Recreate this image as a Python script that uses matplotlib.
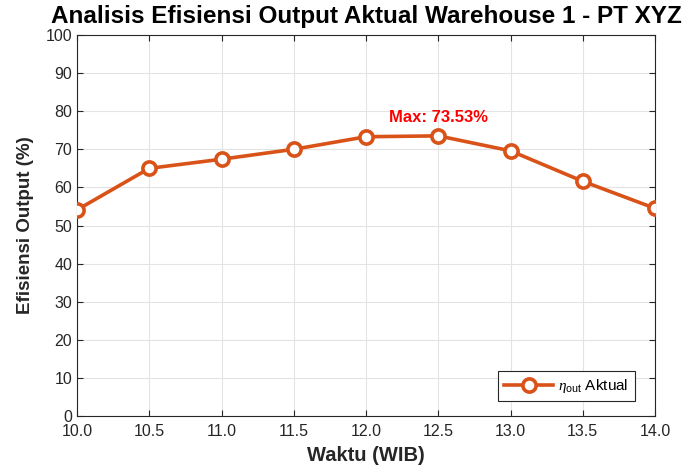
import matplotlib
matplotlib.use("Agg")
import matplotlib.pyplot as plt

waktu = [10.0, 10.5, 11.0, 11.5, 12.0, 12.5, 13.0, 13.5, 14.0]
efisiensi = [54.1, 65.0, 67.4, 70.0, 73.3, 73.53, 69.6, 61.6, 54.5]
xticks = [10.0, 10.5, 11.0, 11.5, 12.0, 12.5, 13.0, 13.5, 14.0]
yticks = list(range(0, 101, 10))

plt.rcParams['font.family'] = ['Liberation Sans', 'DejaVu Sans']
plt.rcParams['mathtext.fontset'] = 'custom'
plt.rcParams['mathtext.it'] = 'Liberation Serif:italic'
plt.rcParams['mathtext.rm'] = 'Liberation Sans'

fig = plt.figure(figsize=(6.91, 4.65), dpi=100)
ax = fig.add_axes([0.1114, 0.1054, 0.8366, 0.8193])

color = '#D95319'
ax.plot(waktu, efisiensi, '-o', color=color, lw=2.6, ms=9.5, mfc='white',
        mec=color, mew=2.6, label=r'$\eta_{\mathrm{out}}$ Aktual', zorder=3)

imax = efisiensi.index(max(efisiensi))
ax.text(waktu[imax], efisiensi[imax] + 2.8, f'Max: {efisiensi[imax]:.2f}%',
        color='red', fontweight='bold', fontsize=12, ha='center', va='bottom')

ax.set_xlim(10, 14)
ax.set_ylim(0, 100)
ax.set_xticks(xticks)
ax.set_xticklabels([f'{v:.1f}' for v in xticks])
ax.set_yticks(yticks)
ax.grid(True, color='#e3e3e3', lw=0.8)
ax.set_axisbelow(True)
ax.tick_params(direction='in', top=True, right=True, labelsize=11.5,
               colors='#262626', length=4)
ax.tick_params(axis='x', pad=6)
for s in ax.spines.values():
    s.set_color('#262626')
    s.set_linewidth(0.8)

ax.set_title('Analisis Efisiensi Output Aktual Warehouse 1 - PT XYZ',
             fontsize=17.5, fontweight='bold', pad=9)
ax.set_xlabel('Waktu (WIB)', fontsize=14.5, fontweight='bold', labelpad=5,
              color='#262626')
ax.set_ylabel('Efisiensi Output (%)', fontsize=13.5, fontweight='bold',
              labelpad=8, color='#262626')

leg = ax.legend(loc='lower right', bbox_to_anchor=(0.965, 0.039), fontsize=11,
                fancybox=False, edgecolor='#262626', framealpha=1,
                handlelength=3.2, borderpad=0.4, handletextpad=0.35,
                borderaxespad=0)
leg.get_frame().set_linewidth(0.8)

fig.savefig('out.png', dpi=100)
